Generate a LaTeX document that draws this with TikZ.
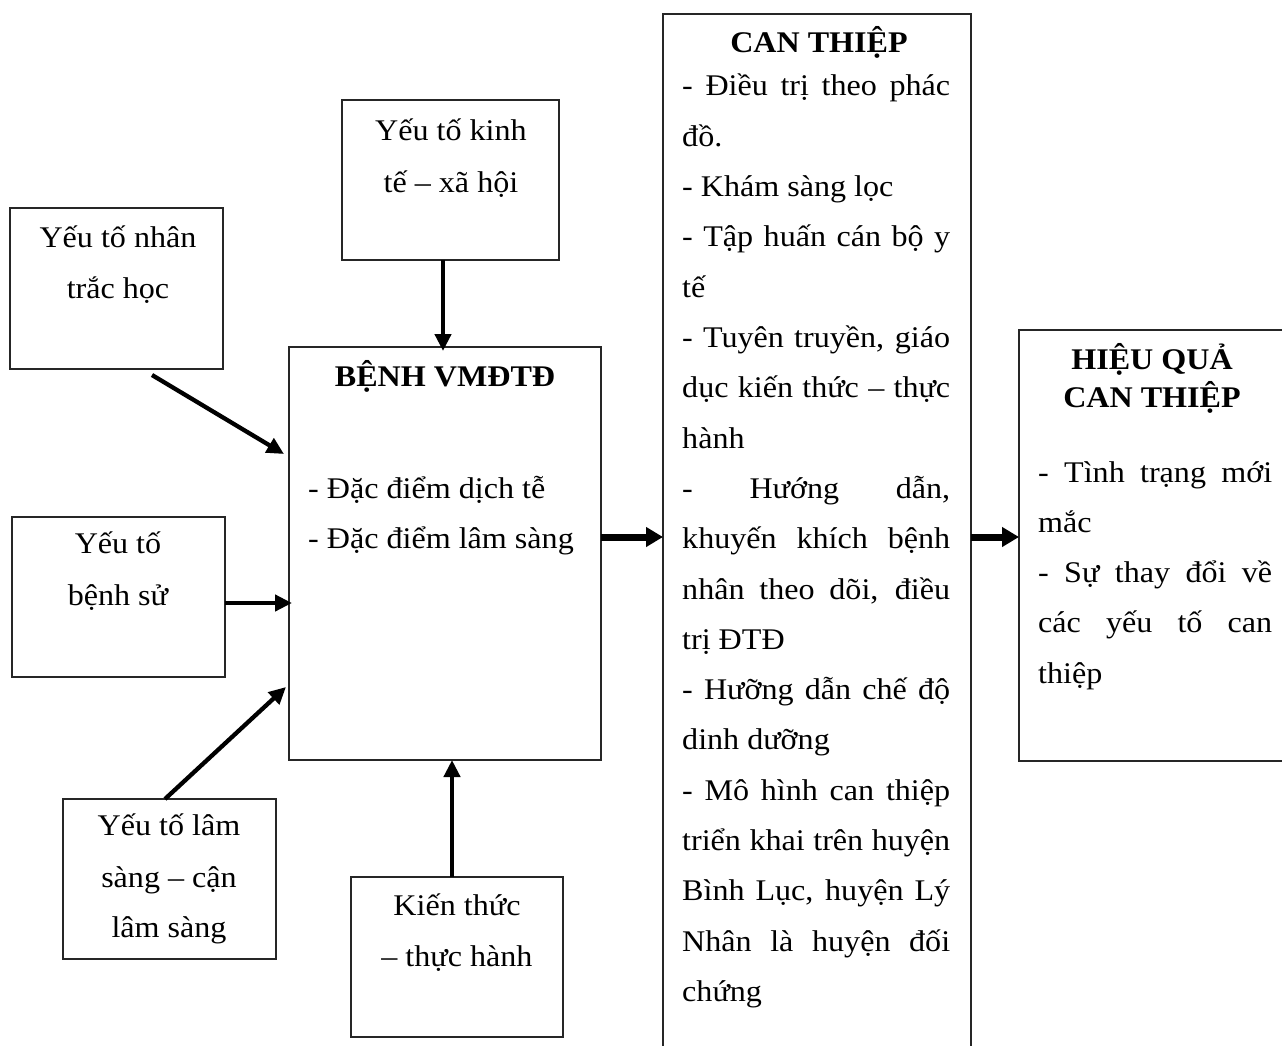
\documentclass[tikz,border=0pt]{standalone}
\usepackage{fontspec}
\setmainfont[FakeStretch=1.07]{Liberation Serif}
\usetikzlibrary{arrows.meta}
\newcommand\CTjust[1]{\makebox[268pt][s]{#1}}
\newcommand\HQjust[1]{\makebox[234pt][s]{#1}}
\begin{document}
\begin{tikzpicture}[x=1pt,y=-1pt,
  box/.style={draw=black!85, line width=1.3pt, inner sep=0pt, outer sep=0pt, anchor=north west},
  txt/.style={inner sep=0pt, anchor=base, font=\fontsize{30}{36}\selectfont},
  ltxt/.style={txt, anchor=base west},
  btxt/.style={txt, font=\fontsize{30}{36}\selectfont\bfseries},
  arr/.style={line width=4.3pt, -{Triangle[length=17pt,width=16pt]}},
  arrb/.style={line width=7pt, -{Triangle[length=17pt,width=19pt]}},
]
\useasboundingbox (0,0) rectangle (1282,1046);
\clip (0,0) rectangle (1282,1046);
\fill[white] (0,0) rectangle (1282,1046);

% boxes
\node[box, minimum width=217pt, minimum height=160pt] (kt) at (342,100) {};
\node[box, minimum width=213pt, minimum height=161pt] (nt) at (10,208) {};
\node[box, minimum width=312pt, minimum height=413pt] (benh) at (289,347) {};
\node[box, minimum width=213pt, minimum height=160pt] (bs) at (12,517) {};
\node[box, minimum width=213pt, minimum height=160pt] (ls) at (63,799) {};
\node[box, minimum width=212pt, minimum height=160pt] (kth) at (351,877) {};
\node[box, minimum width=308pt, minimum height=1045pt] (can) at (663,14) {};
\node[box, minimum width=275pt, minimum height=431pt] (hieu) at (1019,330) {};

% texts of small boxes
\node[txt] (kt1) at (451,140) {Yếu tố kinh};
\node[txt] (kt2) at (451,192) {tế – xã hội};
\node[txt] (nt1) at (118,247) {Yếu tố nhân};
\node[txt] (nt2) at (118,298) {trắc học};
\node[txt] (bs1) at (118,553) {Yếu tố};
\node[txt] (bs2) at (118,605) {bệnh sử};
\node[txt] (ls1) at (169,835) {Yếu tố lâm};
\node[txt] (ls2) at (169,887) {sàng – cận};
\node[txt] (ls3) at (169,937) {lâm sàng};
\node[txt] (kh1) at (457,915) {Kiến thức};
\node[txt] (kh2) at (457,966) {– thực hành};

% central box
\node[btxt] (b0) at (445,386) {BỆNH VMĐTĐ};
\node[ltxt] (b1) at (308,498) {- Đặc điểm dịch tễ};
\node[ltxt] (b2) at (308,548) {- Đặc điểm lâm sàng};

% CAN THIEP box
\node[btxt] (c0) at (819,53) {CAN THIỆP};
\node[ltxt] (c1) at (682,96) {\CTjust{- Điều trị theo phác}};
\node[ltxt] (c2) at (682,146.3) {đồ.};
\node[ltxt] (c3) at (682,196.6) {- Khám sàng lọc};
\node[ltxt] (c4) at (682,246.9) {\CTjust{- Tập huấn cán bộ y}};
\node[ltxt] (c5) at (682,297.2) {tế};
\node[ltxt] (c6) at (682,347.5) {\CTjust{- Tuyên truyền, giáo}};
\node[ltxt] (c7) at (682,397.8) {\CTjust{dục kiến thức – thực}};
\node[ltxt] (c8) at (682,448.1) {hành};
\node[ltxt] (c9) at (682,498.4) {\CTjust{- Hướng dẫn,}};
\node[ltxt] (c10) at (682,548.7) {\CTjust{khuyến khích bệnh}};
\node[ltxt] (c11) at (682,599) {\CTjust{nhân theo dõi, điều}};
\node[ltxt] (c12) at (682,649.3) {trị ĐTĐ};
\node[ltxt] (c13) at (682,699.6) {\CTjust{- Hưỡng dẫn chế độ}};
\node[ltxt] (c14) at (682,749.9) {dinh dưỡng};
\node[ltxt] (c15) at (682,800.2) {\CTjust{- Mô hình can thiệp}};
\node[ltxt] (c16) at (682,850.5) {\CTjust{triển khai trên huyện}};
\node[ltxt] (c17) at (682,900.8) {\CTjust{Bình Lục, huyện Lý}};
\node[ltxt] (c18) at (682,951.1) {\CTjust{Nhân là huyện đối}};
\node[ltxt] (c19) at (682,1001.4) {chứng};

% HIEU QUA box
\node[btxt] (h0) at (1152,369) {HIỆU QUẢ};
\node[btxt] (h1) at (1152,407) {CAN THIỆP};
\node[ltxt] (h2) at (1038,482) {\HQjust{- Tình trạng mới}};
\node[ltxt] (h3) at (1038,532.3) {mắc};
\node[ltxt] (h4) at (1038,582.6) {\HQjust{- Sự thay đổi về}};
\node[ltxt] (h5) at (1038,632.9) {\HQjust{các yếu tố can}};
\node[ltxt] (h6) at (1038,683.2) {thiệp};

% connectors
\coordinate (kta) at (443,260);
\coordinate (nta) at (152,375);
\coordinate (ntb) at (284,454);
\coordinate (bsa) at (225,603);
\coordinate (lsa) at (165,799);
\coordinate (lsb) at (286,687);
\coordinate (kha) at (452,877);
\coordinate (mida) at (601,537);

\draw[arr, shorten >=-4pt] (kta) -- (kta |- benh.north);
\draw[arr] (nta) -- (ntb);
\draw[arr, shorten >=-3pt] (bsa) -- (bsa -| benh.west);
\draw[arr] (lsa) -- (lsb);
\draw[arr] (kha) -- (kha |- benh.south);
\draw[arrb] (mida) -- (mida -| can.west);
\draw[arrb] (mida -| can.east) -- (mida -| hieu.west);
\end{tikzpicture}
\end{document}
